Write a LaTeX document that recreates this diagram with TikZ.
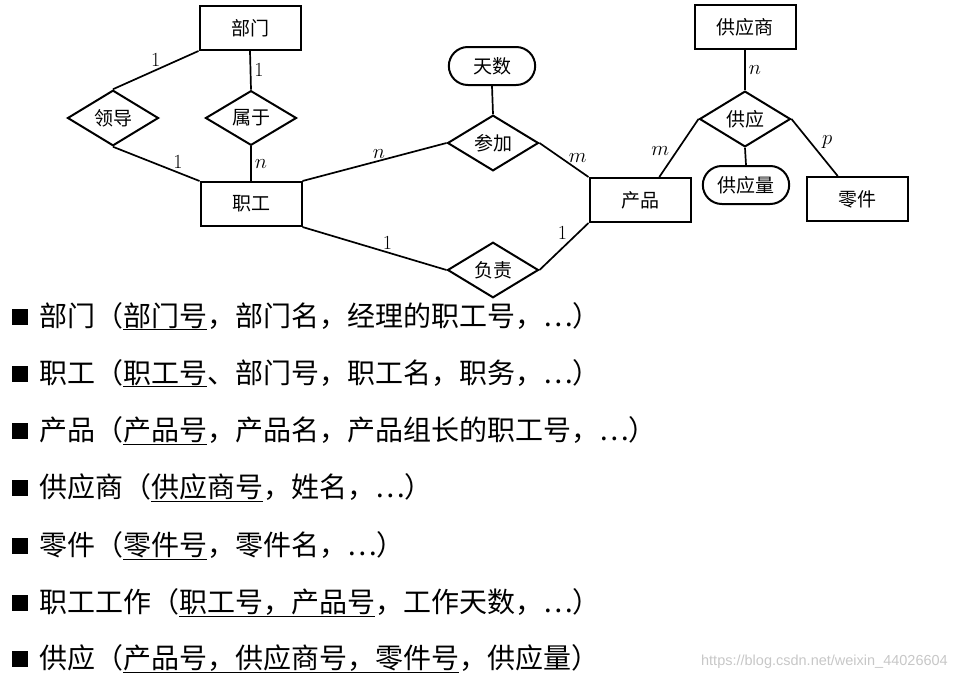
\documentclass[tikz,border=0pt]{standalone}
\usepackage{fontspec}
\newfontfamily\cjk{Noto Sans CJK SC}
\newfontfamily\wmfont{Liberation Sans}
\usetikzlibrary{shapes.geometric}
\usetikzlibrary{shapes.misc}

\begin{document}
\begin{tikzpicture}[x=1pt, y=-1pt,
    entity/.style={draw, line width=2pt, minimum width=101pt, minimum height=44pt,
        font=\cjk\fontsize{19}{19}\selectfont},
    relation/.style={draw, diamond, line width=2pt, minimum width=91pt, minimum height=44pt,
        inner sep=0pt, font=\cjk\fontsize{19}{19}\selectfont},
    attrib/.style={draw, rounded rectangle, line width=2pt, minimum width=93pt, minimum height=38pt,
        font=\cjk\fontsize{19}{19}\selectfont},
    link/.style={line width=1.7pt},
    card/.style={font=\fontsize{20}{20}\selectfont, inner sep=1pt},
    item/.style={anchor=base west, inner sep=0pt, font=\cjk\fontsize{28}{28}\selectfont}]

\useasboundingbox (0,0) rectangle (956,680);

% entities
\node[entity] (bumen) at (250,28) {部门};
\node[entity] (zhigong) at (251,204) {职工};
\node[entity] (chanpin) at (640,200) {产品};
\node[entity] (gongyingshang) at (745,27) {供应商};
\node[entity] (lingjian) at (857,199) {零件};

% relations
\node[relation] (lingdao) at (113,118) {领导};
\node[relation] (shuyu) at (251,118) {属于};
\node[relation] (canjia) at (493,143) {参加};
\node[relation] (fuze) at (493,270) {负责};
\node[relation] (gongying) at (745,119) {供应};

% attributes
\node[attrib] (tianshu) at (492,66) {天数};
\node[attrib] (gongyingliang) at (746,185) {供应量};

% connectors
\draw[link] (bumen.south west) -- node[card, pos=0.5, above=2pt] {1} (lingdao.north);
\draw[link] (lingdao.south) -- node[card, pos=0.75, above=2pt] {1} (zhigong.north west);
\draw[link] (bumen.south) -- node[card, right=2pt] {1} (shuyu.north);
\draw[link] (shuyu.south) -- node[card, right=2pt] {$n$} (zhigong.north);
\draw[link] (zhigong.north east) -- node[card, pos=0.53, above=1pt] {$n$} (canjia.west);
\draw[link] (canjia.east) -- node[card, pos=0.78, above=5pt] {$m$} (chanpin.north west);
\draw[link] (zhigong.south east) -- node[card, pos=0.59, above=1pt] {1} (fuze.west);
\draw[link] (fuze.east) -- node[card, pos=0.6, above left=0pt] {1} (chanpin.south west);
\draw[link] (tianshu.south) -- (canjia.north);
\draw[link] (gongyingshang.south) -- node[card, right=2pt] {$n$} (gongying.north);
\draw[link] (gongying.west) -- node[card, pos=0.55, left=6pt] {$m$} (chanpin.50);
\draw[link] (gongying.east) -- node[card, pos=0.58, above right=2pt] {$p$} (lingjian.130);
\draw[link] (gongying.south) -- (gongyingliang.north);

% relational schemas
\node[item] (r1) at (12,326) {\rule[1pt]{16pt}{16pt}\hspace{11pt}部门（\underline{部门号}，部门名，经理的职工号，…）};
\node[item] (r2) at (12,383) {\rule[1pt]{16pt}{16pt}\hspace{11pt}职工（\underline{职工号}、部门号，职工名，职务，…）};
\node[item] (r3) at (12,440) {\rule[1pt]{16pt}{16pt}\hspace{11pt}产品（\underline{产品号}，产品名，产品组长的职工号，…）};
\node[item] (r4) at (12,497) {\rule[1pt]{16pt}{16pt}\hspace{11pt}供应商（\underline{供应商号}，姓名，…）};
\node[item] (r5) at (12,555) {\rule[1pt]{16pt}{16pt}\hspace{11pt}零件（\underline{零件号}，零件名，…）};
\node[item] (r6) at (12,612) {\rule[1pt]{16pt}{16pt}\hspace{11pt}职工工作（\underline{职工号，产品号}，工作天数，…）};
\node[item] (r7) at (12,668) {\rule[1pt]{16pt}{16pt}\hspace{11pt}供应（\underline{产品号，供应商号，零件号}，供应量）};

\node[anchor=east, inner sep=0pt, text=black!22, font=\wmfont\fontsize{14.5}{14.5}\selectfont]
    (wm) at (948,662) {https://blog.csdn.net/weixin\_44026604};

\end{tikzpicture}
\end{document}
